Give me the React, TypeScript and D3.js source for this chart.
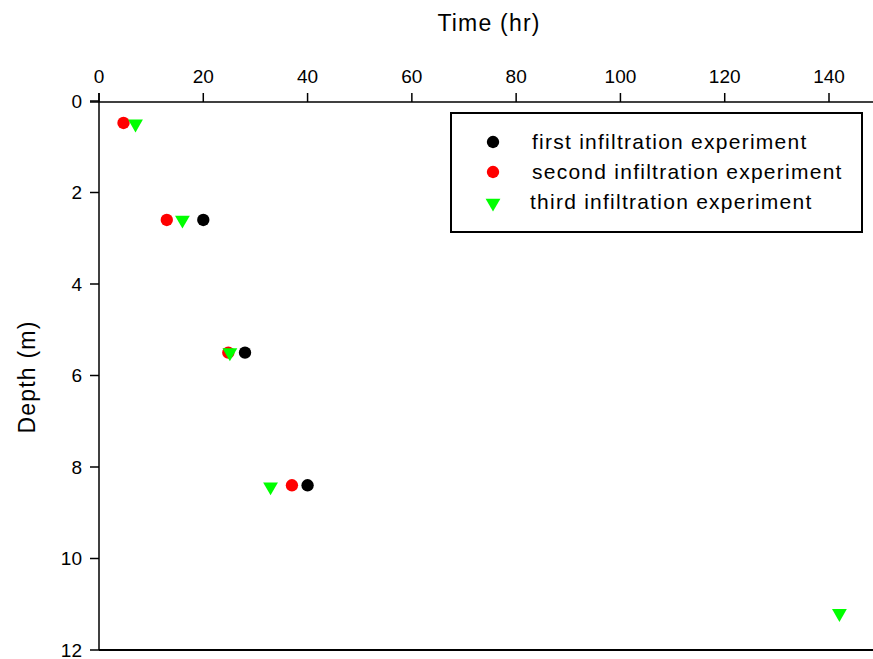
import React from 'react'
import * as d3 from 'd3'

// time (hr) and depth (m)
const firstTime = [20, 28, 40]
const firstDepth = [2.6, 5.5, 8.4]
const secondTime = [4.7, 13, 24.8, 37]
const secondDepth = [0.48, 2.6, 5.5, 8.4]
const thirdTime = [7, 16, 25.1, 32.9, 142]
const thirdDepth = [0.5, 2.6, 5.5, 8.43, 11.2]

const xTicks = [0, 20, 40, 60, 80, 100, 120, 140]
const yTicks = [0, 2, 4, 6, 8, 10, 12]
const legendLabels = [
  'first infiltration experiment',
  'second infiltration experiment',
  'third infiltration experiment',
]

const width = 873
const height = 659
const font = 'Arial, "Liberation Sans", sans-serif'

const xScale = d3.scaleLinear().domain([0, 140]).range([99, 829])
const yScale = d3.scaleLinear().domain([0, 12]).range([101, 650])

const circlePath = d3.symbol().type(d3.symbolCircle).size(120)()
const trianglePath = d3.symbol().type(d3.symbolTriangle).size(95)()

const series = [
  { time: firstTime, depth: firstDepth, color: '#000000', shape: 'circle' },
  { time: secondTime, depth: secondDepth, color: '#ff0000', shape: 'circle' },
  { time: thirdTime, depth: thirdDepth, color: '#00ff00', shape: 'triangle' },
]

function Marker({ x, y, color, shape }: { x: number; y: number; color: string; shape: string }) {
  if (shape === 'triangle') {
    return <path d={trianglePath} transform={`translate(${x},${y}) rotate(180)`} fill={color} />
  }
  return <path d={circlePath} transform={`translate(${x},${y})`} fill={color} />
}

export default function App() {
  const axisY = yScale(0) + 1
  const axisX = xScale(0)
  return (
    <svg
      width={width}
      height={height}
      style={{ position: 'absolute', left: 0, top: 0, background: '#fff' }}
      fontFamily={font}
    >
      {/* top x axis */}
      <line x1={axisX - 9} x2={width} y1={axisY} y2={axisY} stroke="#000" strokeWidth={1.5} />
      {xTicks.map(t => (
        <g key={t}>
          <line x1={xScale(t)} x2={xScale(t)} y1={axisY - 9} y2={axisY} stroke="#000" strokeWidth={1.5} />
          <text x={xScale(t)} y={83} textAnchor="middle" fontSize={19} fill="#000">
            {t}
          </text>
        </g>
      ))}
      <text x={489} y={31} textAnchor="middle" fontSize={23} letterSpacing={1.2} fill="#000">
        Time (hr)
      </text>

      {/* left y axis */}
      <line x1={axisX} x2={axisX} y1={axisY - 9} y2={yScale(12)} stroke="#000" strokeWidth={1.5} />
      {yTicks.map(t => (
        <g key={t}>
          <line x1={axisX - 9} x2={axisX} y1={yScale(t)} y2={yScale(t)} stroke="#000" strokeWidth={1.5} />
          <text x={82} y={yScale(t)} dy="0.35em" textAnchor="end" fontSize={19} fill="#000">
            {t}
          </text>
        </g>
      ))}
      <line x1={axisX} x2={width} y1={yScale(12)} y2={yScale(12)} stroke="#000" strokeWidth={2} />
      <text
        transform={`translate(27, 377) rotate(-90)`}
        textAnchor="middle"
        dy="0.35em"
        fontSize={23}
        letterSpacing={1.2}
        fill="#000"
      >
        Depth (m)
      </text>

      {/* points */}
      {series.map((s, si) =>
        s.time.map((t, i) => (
          <Marker key={`${si}-${i}`} x={xScale(t)} y={yScale(s.depth[i])} color={s.color} shape={s.shape} />
        ))
      )}

      {/* legend */}
      <rect x={451} y={113} width={411} height={119} fill="#fff" stroke="#000" strokeWidth={2} />
      {series.map((s, i) => {
        const cy = 142 + i * 30
        return (
          <g key={i}>
            <Marker x={493} y={s.shape === 'triangle' ? cy + 1 : cy} color={s.color} shape={s.shape} />
            <text
              x={i === 2 ? 530 : 532}
              y={cy}
              dy="0.35em"
              fontSize={21}
              letterSpacing={1.25}
              fill="#000"
            >
              {legendLabels[i]}
            </text>
          </g>
        )
      })}
    </svg>
  )
}
